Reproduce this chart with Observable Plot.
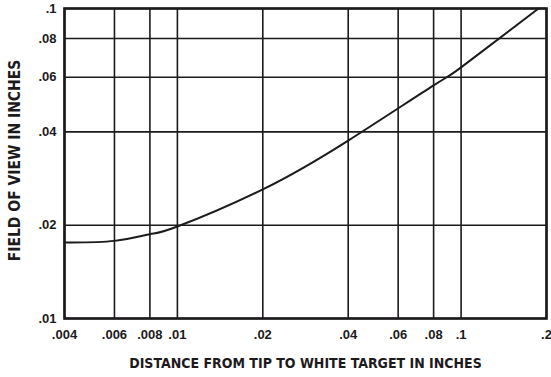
<!DOCTYPE html>
<html>
<head>
<meta charset="utf-8">
<script src="https://cdn.jsdelivr.net/npm/d3@7"></script>
<script src="https://cdn.jsdelivr.net/npm/@observablehq/plot@0.6"></script>
<style>
  html, body { margin: 0; padding: 0; background: #fff; }
  #chart { width: 551px; height: 377px; }
</style>
</head>
<body>
<div id="chart"></div>
<script>
const xTicks = [0.004, 0.006, 0.008, 0.01, 0.02, 0.04, 0.06, 0.08, 0.1, 0.2];
const xTickLabels = [".004", ".006", ".008", ".01", ".02", ".04", ".06", ".08", ".1", ".2"];
const yTicks = [0.01, 0.02, 0.04, 0.06, 0.08, 0.1];
const yTickLabels = [".01", ".02", ".04", ".06", ".08", ".1"];

const distance = [0.004, 0.006, 0.008, 0.01, 0.02, 0.04, 0.08, 0.1, 0.1875];
const fieldOfView = [0.0176, 0.0178, 0.0187, 0.0198, 0.0261, 0.0375, 0.0565, 0.0646, 0.100];

const curve = distance.map((d, i) => ({d, f: fieldOfView[i]}));
const xTickData = xTicks.map((v, i) => ({v, label: xTickLabels[i]}));
const yTickData = yTicks.map((v, i) => ({v, label: yTickLabels[i]}));
const ink = "#1c1a1c";
const font = "'Liberation Sans', Arial, sans-serif";
const narrow = "'Liberation Sans Narrow', 'DejaVu Sans Condensed', 'Liberation Sans', sans-serif";

const chart = Plot.plot({
  width: 551,
  height: 377,
  marginLeft: 64,
  marginRight: 5,
  marginTop: 8,
  marginBottom: 59,
  style: {fontFamily: font, fontWeight: "bold", fontSize: "13px", color: ink, background: "#fff"},
  x: {type: "log", domain: [0.004, 0.2], axis: null},
  y: {type: "log", domain: [0.01, 0.1], axis: null},
  marks: [
    Plot.ruleX(xTicks, {stroke: ink, strokeWidth: 1.6}),
    Plot.ruleY(yTicks, {stroke: ink, strokeWidth: 1.6}),
    Plot.frame({stroke: ink, strokeWidth: 2.6}),
    Plot.line(curve, {x: "d", y: "f", stroke: ink, strokeWidth: 2, curve: "natural"}),
    Plot.text(xTickData, {x: "v", text: "label", frameAnchor: "bottom", dy: 20, fontSize: 13, fontWeight: "bold", fill: ink}),
    Plot.text(yTickData, {y: "v", text: "label", frameAnchor: "left", textAnchor: "end", dx: -8, fontSize: 13, fontWeight: "bold", fill: ink}),
    Plot.text(["DISTANCE FROM TIP TO WHITE TARGET IN INCHES"], {frameAnchor: "bottom", dy: 49, fontFamily: narrow, fontSize: 14, fontWeight: "bold", fill: ink}),
    Plot.text(["FIELD OF VIEW IN INCHES"], {frameAnchor: "left", textAnchor: "middle", dx: -49, dy: -3, rotate: -90, fontFamily: narrow, fontSize: 15.5, fontWeight: "bold", fill: ink})
  ]
});
document.getElementById("chart").appendChild(chart);
</script>
</body>
</html>
